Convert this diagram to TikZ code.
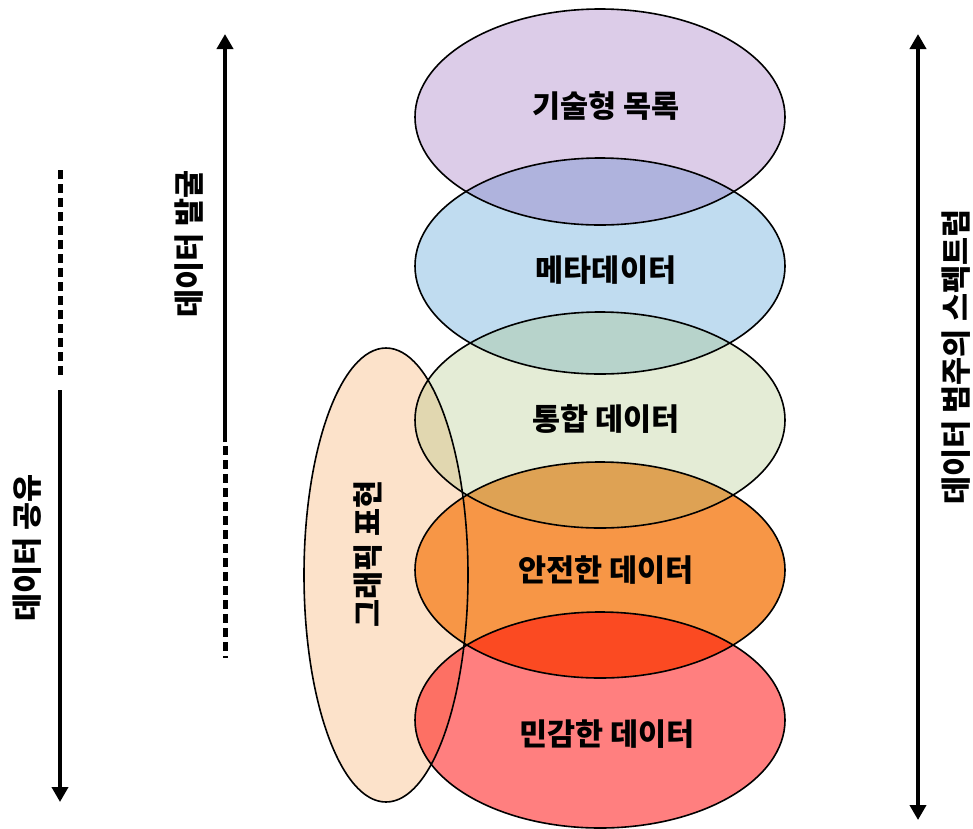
\documentclass[tikz,border=0pt]{standalone}
\usepackage{fontspec}
\setmainfont{Noto Sans CJK KR}
\usetikzlibrary{arrows.meta,shapes.geometric}
\definecolor{cpeach}{RGB}{252,226,202}
\definecolor{cblue}{RGB}{192,220,240}
\definecolor{corange}{RGB}{247,150,70}
\definecolor{cpurple}{RGB}{138,85,178}
\definecolor{cgreen}{RGB}{165,192,118}
\definecolor{cred}{RGB}{255,0,0}
\tikzset{
  ell/.style={ellipse, draw=black, line width=1.6pt, inner sep=0pt,
    minimum width=370pt, minimum height=216pt},
  lbl/.style={font=\bfseries\fontsize{30.5}{34}\selectfont, inner sep=0pt},
  vlbl/.style={lbl, rotate=90},
  bar/.style={line width=3.8pt},
  dbar/.style={line width=5pt, dash pattern=on 9pt off 5pt},
  tip/.style={-{Triangle[length=15pt,width=16pt]}}
}
\begin{document}
\begin{tikzpicture}[x=1pt,y=-1pt]
\useasboundingbox (0,0) rectangle (973,828);
% fills
\fill[cpeach] (386,575) ellipse [x radius=82pt, y radius=227pt];
\fill[cblue] (600,266) ellipse [x radius=185pt, y radius=108pt];
\fill[corange] (600,570) ellipse [x radius=185pt, y radius=108pt];
\fill[cpurple, fill opacity=0.3] (600,117) ellipse [x radius=185pt, y radius=108pt];
\fill[cgreen, fill opacity=0.3] (600,420) ellipse [x radius=185pt, y radius=108pt];
\fill[cred, fill opacity=0.5] (600,720) ellipse [x radius=185pt, y radius=108pt];
% outlines
\node[ellipse, draw=black, line width=1.6pt, inner sep=0pt, minimum width=164pt, minimum height=454pt] (graph) at (386,575) {};
\node[ell] (e1) at (600,117) {};
\node[ell] (e2) at (600,266) {};
\node[ell] (e3) at (600,420) {};
\node[ell] (e4) at (600,570) {};
\node[ell] (e5) at (600,720) {};
% texts
\node[lbl] (t1) at (606,106) {기술형 목록};
\node[lbl] (t2) at (606,270) {메타데이터};
\node[lbl] (t3) at (606,419) {통합 데이터};
\node[lbl] (t4) at (606,570) {안전한 데이터};
\node[lbl] (t5) at (607,734) {민감한 데이터};
\node[vlbl] (tg) at (368,554) {그래픽 표현};
\node[vlbl] (ts) at (27,548) {데이터 공유};
\node[vlbl] (td) at (189,244) {데이터 발굴};
\node[vlbl] (tr) at (956,357) {데이터 범주의 스펙트럼};
% arrows
\coordinate (la) at (60,170);
\coordinate (lb) at (60,378);
\coordinate (lc) at (60,390);
\coordinate (ld) at (60,802);
\draw[dbar] (la) -- (lb);
\draw[bar,tip] (lc) -- (ld);
\coordinate (ma) at (225,34);
\coordinate (mb) at (225,442);
\coordinate (mc) at (225,446);
\coordinate (md) at (225,658);
\draw[bar,tip] (mb) -- (ma);
\draw[dbar] (mc) -- (md);
\coordinate (ra) at (918,34);
\coordinate (rb) at (918,820);
\draw[bar,{Triangle[length=15pt,width=16pt]}-{Triangle[length=15pt,width=16pt]}] (ra) -- (rb);
\end{tikzpicture}
\end{document}
